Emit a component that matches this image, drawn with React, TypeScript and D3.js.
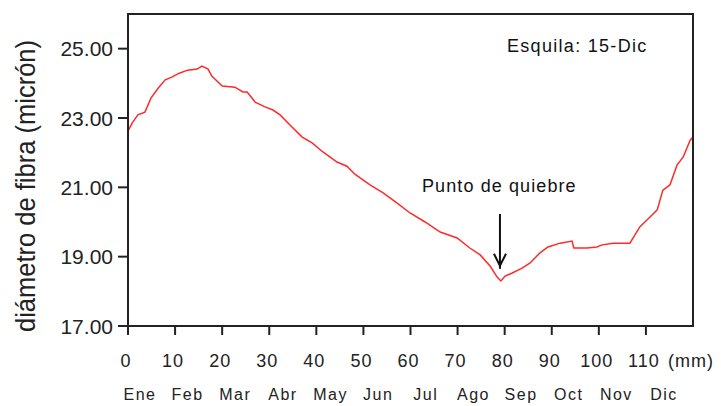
import * as d3 from "d3";
import { useMemo } from "react";

// posición a lo largo de la mecha (mm) y diámetro medido (micrón)
const posMm = [
  0, 0.9, 2.1, 3.6, 4.9, 6.4, 7.9, 9.3, 11.0, 12.7, 14.7, 15.7, 17.0, 17.8, 20.0,
  22.7, 24.4, 25.3, 27.0, 29.1, 30.8, 32.3, 34.4, 37.0, 39.1, 41.4, 44.4, 46.5,
  48.2, 49.3, 51.4, 54.2, 57.1, 59.9, 63.1, 66.3, 69.9, 72.6, 74.8, 76.9, 78.4,
  79.2, 80.1, 81.6, 83.7, 85.4, 87.5, 89.2, 91.8, 94.3, 94.7, 97.5, 99.6, 100.7,
  103.0, 106.6, 108.7, 111.3, 112.4, 113.6, 115.1, 116.6, 117.9, 119.4, 120,
];
const diametro = [
  22.62, 22.86, 23.09, 23.17, 23.58, 23.86, 24.1, 24.18, 24.3, 24.38, 24.41, 24.5,
  24.41, 24.21, 23.92, 23.89, 23.75, 23.75, 23.46, 23.32, 23.23, 23.09, 22.8,
  22.45, 22.28, 22.02, 21.73, 21.61, 21.38, 21.27, 21.07, 20.84, 20.55, 20.26,
  20.0, 19.71, 19.54, 19.25, 19.05, 18.73, 18.41, 18.3, 18.44, 18.53, 18.67,
  18.82, 19.11, 19.28, 19.39, 19.45, 19.25, 19.25, 19.28, 19.34, 19.39, 19.39,
  19.86, 20.2, 20.35, 20.92, 21.07, 21.64, 21.87, 22.36, 22.45,
];

const xTicks = [0, 10, 20, 30, 40, 50, 60, 70, 80, 90, 100, 110];
const yTicks = [17, 19, 21, 23, 25];
const meses = ["Ene", "Feb", "Mar", "Abr", "May", "Jun", "Jul", "Ago", "Sep", "Oct", "Nov", "Dic"];

const W = 721;
const H = 406;
const margin = { left: 128, top: 14, right: 28, bottom: 80 };
const font = "'Liberation Sans', Arial, sans-serif";
const axisColor = "#222";

export default function App() {
  const x = useMemo(
    () => d3.scaleLinear().domain([0, 120]).range([margin.left, W - margin.right]),
    []
  );
  const y = useMemo(
    () => d3.scaleLinear().domain([17, 26]).range([H - margin.bottom, margin.top]),
    []
  );
  const mesX = d3.scalePoint<string>().domain(meses).range([140, 664]);

  const puntos = posMm.map((m, i) => [m, diametro[i]] as [number, number]);
  const path = d3
    .line<[number, number]>()
    .x((d) => x(d[0]))
    .y((d) => y(d[1]))(puntos);

  const x0 = x(0);
  const x1 = x(120);
  const y0 = y(17);
  const y1 = y(26);
  const fmt = d3.format(".2f");

  // flecha del punto de quiebre
  const ax = x(79);
  const ayTop = y(20.23);
  const ayBot = y(18.65);

  return (
    <svg
      width={W}
      height={H}
      style={{ position: "absolute", left: 0, top: 0, background: "#fff" }}
      fontFamily={font}
    >
      <path d={path ?? ""} fill="none" stroke="#ff2a2a" strokeWidth={1.5} />

      {/* marco */}
      <path
        d={`M${x0},${y0}V${y1}H${x1}V${y0}H${x0}`}
        fill="none"
        stroke={axisColor}
        strokeWidth={2}
      />

      {/* eje Y */}
      {yTicks.map((t) => (
        <g key={t}>
          <line x1={x0 - 10} x2={x0} y1={y(t)} y2={y(t)} stroke={axisColor} strokeWidth={2} />
          <text x={x0 - 15} y={y(t)} dy="0.36em" textAnchor="end" fontSize={21} fill="#222">
            {fmt(t)}
          </text>
        </g>
      ))}

      {/* eje X */}
      {xTicks.map((t) => (
        <g key={t}>
          <line x1={x(t)} x2={x(t)} y1={y0} y2={y0 + 9} stroke={axisColor} strokeWidth={2} />
          <text x={x(t) - 2} y={367} textAnchor="middle" fontSize={18} letterSpacing={1} fill="#222">
            {t}
          </text>
        </g>
      ))}
      <text x={668} y={367} fontSize={18} letterSpacing={1} fill="#222">
        (mm)
      </text>

      {meses.map((m) => (
        <text key={m} x={mesX(m)} y={400} textAnchor="middle" fontSize={16} letterSpacing={1.5} fill="#222">
          {m}
        </text>
      ))}

      <text
        transform={`translate(35,186) rotate(-90)`}
        textAnchor="middle"
        fontSize={27}
        textLength={292}
        lengthAdjust="spacingAndGlyphs"
        fill="#222"
      >
        diámetro de fibra (micrón)
      </text>

      <text x={507} y={52} fontSize={18} letterSpacing={1.3} fill="#111">
        Esquila: 15-Dic
      </text>
      <text x={422} y={192} fontSize={18} letterSpacing={1.1} fill="#111">
        Punto de quiebre
      </text>

      <line x1={ax} x2={ax} y1={ayTop} y2={ayBot} stroke="#111" strokeWidth={2} />
      <path
        d={`M${ax - 6},${ayBot - 15}L${ax},${ayBot - 3}L${ax + 6},${ayBot - 15}`}
        fill="none"
        stroke="#111"
        strokeWidth={2}
      />
    </svg>
  );
}
